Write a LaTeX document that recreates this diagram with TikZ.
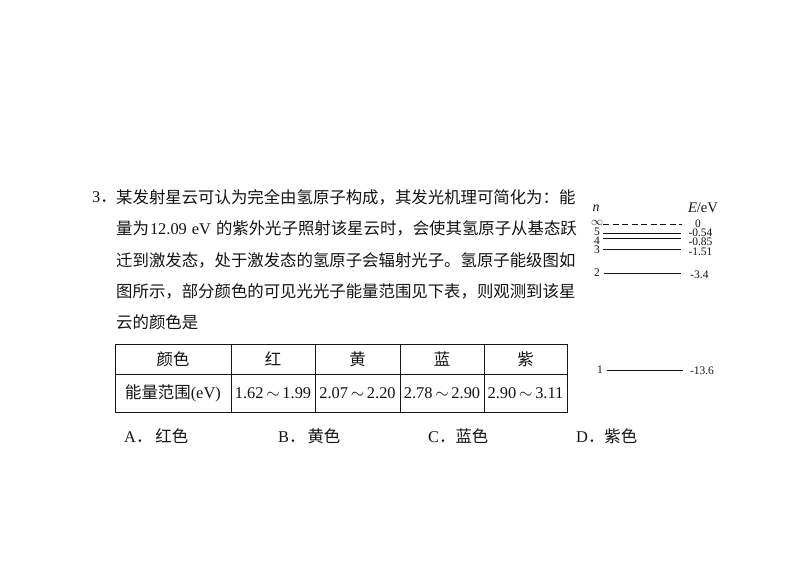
\documentclass[tikz,border=0pt]{standalone}
\usepackage{fontspec}
\setmainfont{Liberation Serif}
\newfontfamily\cjk{Noto Sans CJK SC}[Scale=1.0]
\newcommand{\hz}[1]{{\cjk #1}}
\definecolor{ink}{gray}{0.08}
\tikzset{
  txt/.style={anchor=west,inner sep=0pt,text=ink,font=\fontsize{16.4}{18}\selectfont},
  cell/.style={draw=ink,line width=1pt,inner sep=0pt,text=ink,font=\fontsize{16.4}{18}\selectfont},
  opt/.style={anchor=west,inner sep=0pt,text=ink,font=\fontsize{16.4}{18}\selectfont},
  lvl/.style={inner sep=0pt,text=ink,font=\fontsize{11.5}{12}\selectfont},
  lev/.style={draw=ink,line width=1pt},
}
\begin{document}
\begin{tikzpicture}[x=1pt,y=-1pt]
\useasboundingbox[fill=white] (0,0) rectangle (794,561);
% question text
\node[txt] (num) at (92,197) {3\hz{．}};
\node[txt] (l1) at (116,197) {\hz{某发射星云可认为完全由氢原子构成，其发光机理可简化为：能}};
\node[txt] (l2) at (116,228) {\hz{量为}\hspace{1pt}12.09\hspace{5pt}eV\hspace{5pt}\hz{的紫外光子照射该星云时，会使其氢原子从基态跃}};
\node[txt] (l3) at (116,260) {\hz{迁到激发态，处于激发态的氢原子会辐射光子。氢原子能级图如}};
\node[txt] (l4) at (116,291) {\hz{图所示，部分颜色的可见光光子能量范围见下表，则观测到该星}};
\node[txt] (l5) at (116,322) {\hz{云的颜色是}};
% table
\node[cell,minimum width=116pt,minimum height=30pt] (c11) at (173,359) {\hz{颜色}};
\node[cell,minimum width=84pt,minimum height=30pt] (c12) at (273,359) {\hz{红}};
\node[cell,minimum width=85pt,minimum height=30pt] (c13) at (357.5,359) {\hz{黄}};
\node[cell,minimum width=84pt,minimum height=30pt] (c14) at (442,359) {\hz{蓝}};
\node[cell,minimum width=83pt,minimum height=30pt] (c15) at (525.5,359) {\hz{紫}};
\node[cell,minimum width=116pt,minimum height=38pt] (c21) at (173,393) {\hz{能量范围}(eV)};
\node[cell,minimum width=84pt,minimum height=38pt] (c22) at (273,393) {1.62\,$\sim$\,1.99};
\node[cell,minimum width=85pt,minimum height=38pt] (c23) at (357.5,393) {2.07\,$\sim$\,2.20};
\node[cell,minimum width=84pt,minimum height=38pt] (c24) at (442,393) {2.78\,$\sim$\,2.90};
\node[cell,minimum width=83pt,minimum height=38pt] (c25) at (525.5,393) {2.90\,$\sim$\,3.11};
% options
\node[opt] (a) at (124,436) {A\hz{．}\hspace{3pt}\hz{红色}};
\node[opt] (b) at (278,436) {B\hz{．}\hspace{2pt}\hz{黄色}};
\node[opt] (c) at (428,436) {C\hz{．}\hz{蓝色}};
\node[opt] (d) at (576,436) {D\hz{．}\hz{紫色}};
% level diagram
\node[lvl,font=\fontsize{14}{14}\selectfont\itshape] (nh) at (596,208) {n};
\node[lvl,font=\fontsize{14.6}{14}\selectfont] (eh) at (703,208) {\textit{E}/eV};
\node[lvl] (ninf) at (597,222.5) {$\infty$};
\node[lvl] (n5) at (597,231.5) {5};
\node[lvl] (n4) at (597,240.5) {4};
\node[lvl] (n3) at (597,250) {3};
\node[lvl] (n2) at (597,273) {2};
\node[lvl] (n1) at (600,370) {1};
\node[lvl] (einf) at (698,223.5) {0};
\node[lvl] (e5) at (700.5,233) {-0.54};
\node[lvl] (e4) at (700.5,242) {-0.85};
\node[lvl] (e3) at (700.5,251.5) {-1.51};
\node[lvl] (e2) at (699.5,275) {-3.4};
\node[lvl] (e1) at (702,371) {-13.6};
\coordinate (ainf) at (603,225); \coordinate (binf) at (682,225);
\coordinate (a5) at (603,233); \coordinate (b5) at (681,233);
\coordinate (a4) at (603,238.5); \coordinate (b4) at (681,238.5);
\coordinate (a3) at (603,249.5); \coordinate (b3) at (681,249.5);
\coordinate (a2) at (604,273); \coordinate (b2) at (681,273);
\coordinate (a1) at (607,370); \coordinate (b1) at (683,370);
\draw[lev,dash pattern=on 6pt off 3.5pt] (ainf) -- (binf);
\draw[lev] (a5) -- (b5);
\draw[lev] (a4) -- (b4);
\draw[lev] (a3) -- (b3);
\draw[lev] (a2) -- (b2);
\draw[lev] (a1) -- (b1);
\end{tikzpicture}
\end{document}
